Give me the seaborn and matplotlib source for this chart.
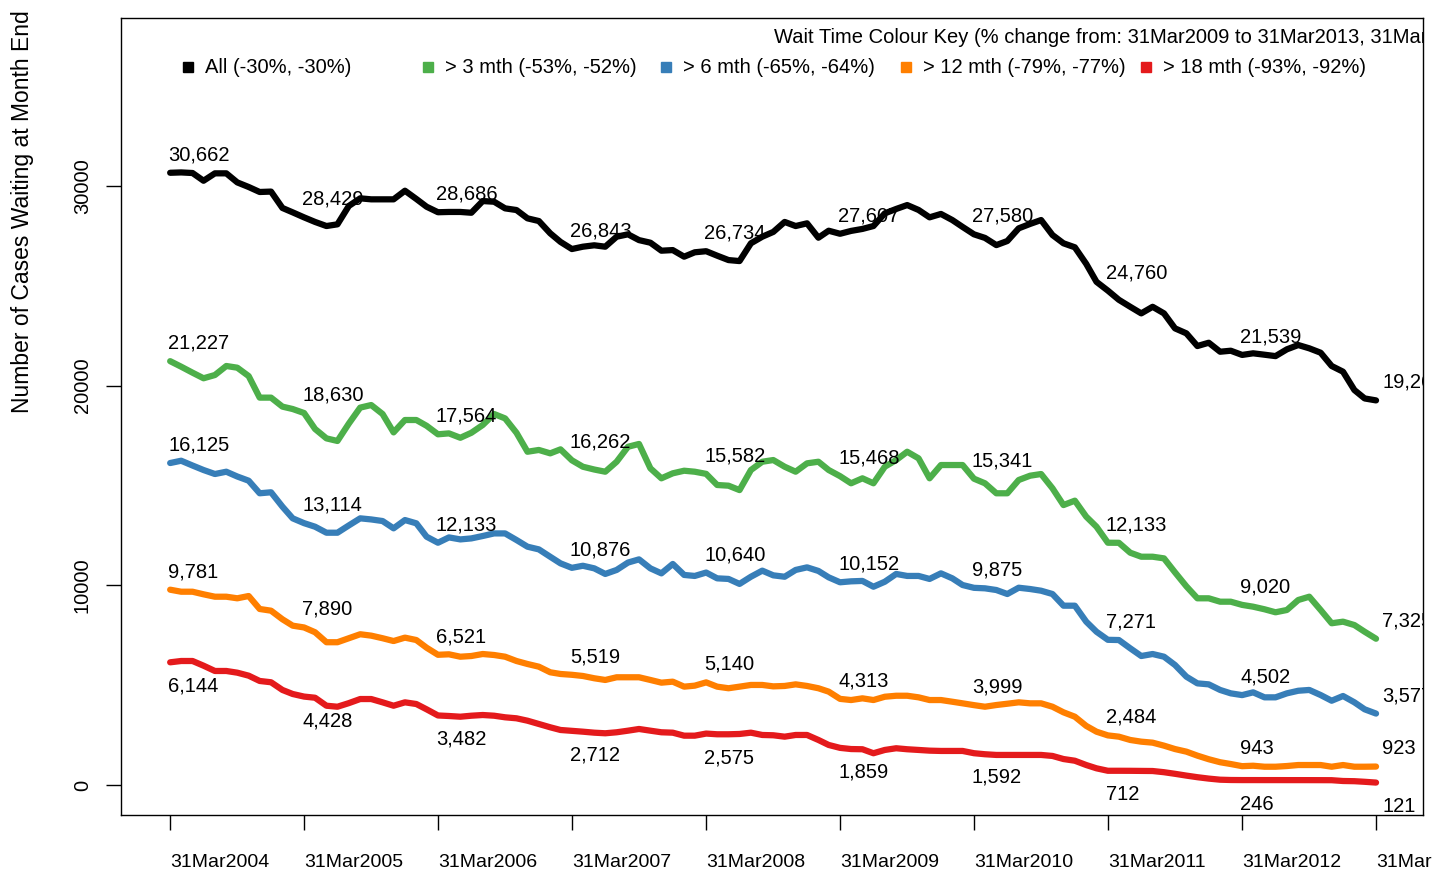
import pandas as pd
import matplotlib.pyplot as plt
import matplotlib.dates as mdates
import seaborn as sns

# Monthly figures, 31Mar2004 .. 31Mar2013
all_cases = [30662, 30680, 30650, 30263, 30634, 30634, 30180, 29950, 29700, 29720, 28900, 28680,
             28429, 28200, 27995, 28080, 29000, 29382, 29332, 29332, 29332, 29763, 29350, 28962,
             28686, 28700, 28700, 28660, 29246, 29212, 28880, 28796, 28380, 28245, 27630, 27200,
             26843, 26960, 27030, 26960, 27460, 27580, 27290, 27160, 26760, 26790, 26460, 26680,
             26734, 26510, 26290, 26240, 27130, 27460, 27700, 28200, 27995, 28130, 27410, 27760,
             27607, 27750, 27850, 27995, 28630, 28850, 29045, 28800, 28430, 28600, 28295, 27950,
             27580, 27400, 27040, 27245, 27880, 28100, 28295, 27545, 27130, 26930, 26100, 25200,
             24760, 24300, 23950, 23620, 23950, 23620, 22870, 22620, 21985, 22150, 21700, 21750,
             21539, 21620, 21550, 21480, 21820, 22035, 21870, 21650, 20985, 20700, 19780, 19360,
             19262]
over_3 = [21227, 20950, 20650, 20370, 20533, 20985, 20900, 20480, 19400, 19400, 18950, 18830,
          18630, 17830, 17360, 17230, 18100, 18900, 19030, 18580, 17660, 18280, 18280, 17990,
          17564, 17610, 17390, 17640, 18030, 18580, 18360, 17640, 16690, 16780, 16610, 16810,
          16262, 15940, 15800, 15690, 16190, 16940, 17080, 15860, 15360, 15610, 15740, 15690,
          15582, 15025, 14990, 14770, 15775, 16190, 16275, 15940, 15690, 16110, 16190, 15775,
          15468, 15110, 15360, 15110, 15940, 16275, 16690, 16360, 15360, 16025, 16025, 16025,
          15341, 15110, 14610, 14610, 15275, 15490, 15575, 14860, 14020, 14240, 13440, 12935,
          12133, 12130, 11634, 11433, 11433, 11350, 10650, 9950, 9350, 9350, 9180, 9180,
          9020, 8930, 8800, 8650, 8765, 9265, 9430, 8765, 8100, 8180, 8010, 7675,
          7325]
over_6 = [16125, 16240, 16000, 15775, 15575, 15690, 15450, 15240, 14610, 14660, 13940, 13355,
          13114, 12935, 12635, 12635, 13000, 13355, 13300, 13220, 12855, 13270, 13105, 12435,
          12133, 12400, 12300, 12350, 12470, 12600, 12600, 12270, 11935, 11800, 11430, 11100,
          10876, 10980, 10850, 10570, 10770, 11140, 11300, 10850, 10600, 11070, 10520, 10470,
          10640, 10350, 10320, 10070, 10430, 10735, 10500, 10430, 10770, 10900, 10720, 10400,
          10152, 10200, 10220, 9930, 10180, 10570, 10470, 10470, 10320, 10600, 10350, 10015,
          9875, 9850, 9765, 9565, 9880, 9815, 9730, 9565, 8980, 8980, 8180, 7675,
          7271, 7260, 6845, 6460, 6560, 6425, 6010, 5425, 5090, 5040, 4760, 4590,
          4502, 4640, 4390, 4390, 4590, 4720, 4760, 4505, 4220, 4457, 4140, 3790,
          3577]
over_12 = [9781, 9680, 9680, 9550, 9430, 9430, 9350, 9465, 8815, 8730, 8300, 7980,
           7890, 7650, 7150, 7150, 7350, 7550, 7480, 7350, 7210, 7380, 7260, 6875,
           6521, 6545, 6425, 6460, 6560, 6510, 6425, 6210, 6060, 5925, 5645, 5560,
           5519, 5460, 5345, 5260, 5395, 5395, 5395, 5260, 5125, 5175, 4925, 4975,
           5140, 4925, 4845, 4925, 5010, 5010, 4940, 4960, 5040, 4960, 4845, 4675,
           4313, 4255, 4340, 4255, 4420, 4470, 4470, 4390, 4255, 4255, 4170, 4090,
           3999, 3920, 4005, 4070, 4140, 4090, 4090, 3920, 3640, 3420, 2960, 2670,
           2484, 2420, 2255, 2170, 2120, 1970, 1800, 1670, 1470, 1290, 1140, 1050,
           943, 965, 915, 915, 950, 1000, 1000, 1000, 915, 1000, 915, 915,
           923]
over_18 = [6144, 6210, 6210, 5975, 5710, 5710, 5625, 5475, 5210, 5145, 4760, 4557,
           4428, 4370, 3970, 3920, 4100, 4305, 4305, 4140, 3970, 4140, 4055, 3790,
           3482, 3455, 3420, 3470, 3505, 3470, 3390, 3340, 3220, 3055, 2890, 2755,
           2712, 2670, 2620, 2590, 2640, 2720, 2805, 2720, 2640, 2620, 2470, 2470,
           2575, 2540, 2540, 2555, 2620, 2505, 2490, 2420, 2505, 2505, 2255, 2005,
           1859, 1800, 1790, 1590, 1755, 1840, 1790, 1755, 1720, 1705, 1705, 1705,
           1592, 1540, 1505, 1505, 1505, 1505, 1505, 1455, 1300, 1215, 1000, 835,
           712, 712, 710, 705, 700, 640, 560, 470, 390, 320, 265, 250,
           246, 246, 245, 245, 244, 244, 243, 242, 240, 200, 190, 160,
           121]

groups = ["All", "> 3 mth", "> 6 mth", "> 12 mth", "> 18 mth"]
change_2009 = ["-30%", "-53%", "-65%", "-79%", "-93%"]
change_2010 = ["-30%", "-52%", "-64%", "-77%", "-92%"]
colours = ["#000000", "#4DAF4A", "#377EB8", "#FF7F00", "#E41A1C"]
label_below = [False, False, False, False, True]
key_title = "Wait Time Colour Key (% change from: 31Mar2009 to 31Mar2013, 31Mar2010 to 31Mar2013)"

months = pd.date_range("2004-03-31", periods=109, freq=pd.offsets.MonthEnd())
series = [all_cases, over_3, over_6, over_12, over_18]

df = pd.concat([pd.DataFrame({"date": months, "cases": vals, "group": g})
                for g, vals in zip(groups, series)], ignore_index=True)

sns.set_style("white")
plt.rcParams["font.family"] = ["Liberation Sans", "DejaVu Sans"]
plt.rcParams["text.color"] = "black"
plt.rcParams["axes.labelcolor"] = "black"
plt.rcParams["xtick.color"] = "black"
plt.rcParams["ytick.color"] = "black"

fig = plt.figure(figsize=(14.32, 8.8), dpi=100)
ax = fig.add_axes([121 / 1432, 1 - 815 / 880, 1302 / 1432, 797 / 880])

sns.lineplot(data=df, x="date", y="cases", hue="group", hue_order=groups,
             palette=dict(zip(groups, colours)), linewidth=4.5, legend=False, ax=ax)

# yearly value labels
for vals, below in zip(series, label_below):
    for i in range(0, len(months), 12):
        dx = 6 if i == len(months) - 1 else -2
        dy = -24 if below else 18
        ax.annotate(f"{vals[i]:,}", (months[i], vals[i]), xytext=(dx, dy),
                    textcoords="offset pixels", ha="left", va="center",
                    fontsize=14.5, clip_on=True)

ax.set_xlim(pd.Timestamp("2003-11-18"), pd.Timestamp("2013-08-06"))
ax.set_ylim(-1503, 38414)

ax.set_xticks(months[::12])
ax.xaxis.set_major_formatter(mdates.DateFormatter("%d%b%Y"))
ax.set_yticks([0, 10000, 20000, 30000])
ax.tick_params(axis="x", bottom=True, length=11, width=1, pad=17, labelsize=14)
ax.tick_params(axis="y", left=True, length=11, width=1, pad=10, labelsize=14.5, labelrotation=90)
for lab in ax.get_xticklabels():
    lab.set_ha("left")
for lab in ax.get_yticklabels():
    lab.set_va("center")

ax.set_xlabel("")
ax.set_ylabel("Number of Cases Waiting at Month End", fontsize=16.5, va="center")
ax.yaxis.set_label_coords(-0.0755, 0.7566)

for s in ax.spines.values():
    s.set_color("black")
    s.set_linewidth(1)

# colour key
ax.text(0.5015, 0.975, key_title, transform=ax.transAxes, ha="left", va="center",
        fontsize=14.5, clip_on=True)
key_x = [0.0515, 0.2358, 0.4186, 0.6029, 0.7873]
for kx, g, c, a, b in zip(key_x, groups, colours, change_2009, change_2010):
    ax.plot([kx], [0.9385], marker="s", markersize=6.5, color=c, linestyle="none",
            transform=ax.transAxes)
    ax.text(kx + 0.013, 0.9385, f"{g} ({a}, {b})", transform=ax.transAxes,
            ha="left", va="center", fontsize=14.5)

fig.savefig("out.png", dpi=100)
